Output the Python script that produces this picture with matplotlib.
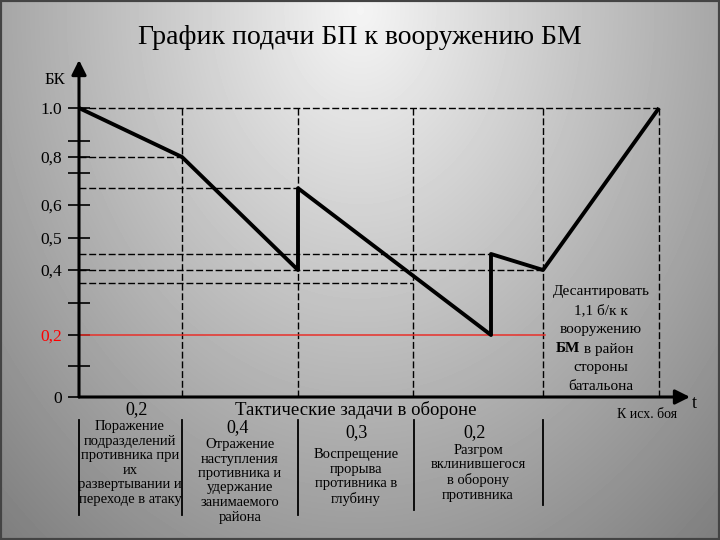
"""
График подачи БП к вооружению БМ: ammunition level (BK) over the
phases of a defensive battle, redrawn with matplotlib.
"""

import numpy as np
import matplotlib.pyplot as plt
from matplotlib import transforms

# Polyline of the ammunition level (time in arbitrary units, level in BK)
time_points = [0.0, 1.03, 2.19, 2.19, 4.12, 4.12, 4.64, 5.80]
bk_points = [1.0, 0.8, 0.4, 0.67, 0.2, 0.45, 0.4, 1.0]

# Phase boundaries along the time axis
phase_bounds = [1.03, 2.19, 3.34, 4.64, 5.80]

# Dashed guide lines: (level, time where the guide stops)
guide_levels = [1.0, 0.8, 0.67, 0.45, 0.4, 0.36]
guide_ends = [5.80, 1.03, 2.19, 4.12, 4.64, 3.34]

# Minimum allowed level (red line)
min_level = 0.2
min_level_end = 4.66

# Y axis ticks
ytick_values = [0, 0.2, 0.4, 0.5, 0.6, 0.8, 1.0]
ytick_labels = ["0", "0,2", "0,4", "0,5", "0,6", "0,8", "1.0"]
yminor_values = [0.1, 0.3, 0.733, 0.865]

# Phase annotations below the time axis
phase_amounts = ["0,2", "0,4", "0,3", "0,2"]
phase_texts = [
    "Поражение\nподразделений\nпротивника при\nих\nразвертывании и\nпереходе в атаку",
    "Отражение\nнаступления\nпротивника и\nудержание\nзанимаемого\nрайона",
    "Воспрещение\nпрорыва\nпротивника в\nглубину",
    "Разгром\nвклинившегося\nв оборону\nпротивника",
]

# Resupply note, line by line (line 4 starts with bold "БМ")
note_lines = ["Десантировать", "1,1 б/к к", "вооружению", None,
              "стороны", "батальона"]

# The hand-drawn level axis is not linear: map level -> height
VAL_KNOTS = [-1.0, 0.0, 0.2, 0.4, 0.5, 0.6, 0.8, 1.0, 2.0]
POS_KNOTS = [-310, 0, 62, 127, 159, 192, 240, 289, 534]


def forward(v):
    return np.interp(v, VAL_KNOTS, POS_KNOTS)


def inverse(p):
    return np.interp(p, POS_KNOTS, VAL_KNOTS)


def main():
    plt.rcParams["font.family"] = ["Liberation Serif", "DejaVu Serif"]

    W, H = 720, 540
    fig = plt.figure(figsize=(W / 100, H / 100), dpi=100)

    # Gray radial gradient background, like the slide
    bg = fig.add_axes([0, 0, 1, 1], zorder=-10)
    yy, xx = np.mgrid[0:H, 0:W]
    r = np.sqrt(((xx - 360) / 430.0) ** 2 + ((yy - 10) / 560.0) ** 2)
    grad = np.clip(0.96 - 0.37 * r, 0, 1)
    bg.imshow(grad, cmap="gray", vmin=0, vmax=1, extent=[0, 1, 0, 1],
              aspect="auto", interpolation="bilinear")
    bg.set_xlim(0, 1)
    bg.set_ylim(0, 1)
    bg.axis("off")
    # slide frame
    bg.plot([0, 0, 1, 1, 0], [0, 1, 1, 0, 0], color="#444444", lw=3,
            clip_on=False)

    # Main axes: x from the origin to the arrow tip, y up to the arrow tip
    ax = fig.add_axes([79 / W, 143 / H, 611 / W, 337 / H])
    ax.patch.set_alpha(0)
    ax.set_yscale("function", functions=(forward, inverse))
    ax.set_xlim(0, 6.11)
    ax.set_ylim(0, float(inverse(337)))
    for sp in ax.spines.values():
        sp.set_visible(False)

    # Axes drawn as arrows
    arrow = dict(arrowstyle="-|>", lw=2.2, color="black",
                 mutation_scale=22, shrinkA=0, shrinkB=0)
    ax.annotate("", xy=(6.11, 0), xytext=(0, 0), arrowprops=arrow,
                annotation_clip=False)
    ax.annotate("", xy=(0, float(inverse(337))), xytext=(0, 0),
                arrowprops=arrow, annotation_clip=False)

    dash = (0, (5, 2))
    # Horizontal dashed guides
    for lvl, end in zip(guide_levels, guide_ends):
        ax.plot([0, end], [lvl, lvl], color="black", lw=1.0, ls=dash)
    # Vertical dashed guides
    for t in phase_bounds:
        ax.plot([t, t], [0, 1.0], color="black", lw=1.0, ls=dash)

    # Red minimum level
    ax.plot([0, min_level_end], [min_level, min_level], color="#e8302a",
            lw=1.1)

    # Ammunition level
    ax.plot(time_points, bk_points, color="black", lw=2.8, zorder=5,
            solid_capstyle="butt")

    # Ticks
    ax.set_xticks([])
    ax.set_yticks(ytick_values, ytick_labels)
    ax.set_yticks(yminor_values, minor=True)
    ax.tick_params(axis="y", which="both", direction="inout", length=16,
                   width=1.2, pad=4, labelsize=12.5)
    ax.get_yticklabels()[1].set_color("red")

    # Text outside the plot: x in data units, y in figure fraction
    tr = transforms.blended_transform_factory(ax.transData, fig.transFigure)

    def fy(py):
        return 1 - py / H

    fig.text(0.5, fy(37), "График подачи БП к вооружению БМ", ha="center",
             va="center", fontsize=20)
    fig.text(55 / W, fy(80), "БК", ha="center", va="center", fontsize=12)
    ax.text(6.13, fy(403), "t", transform=tr, ha="left", va="center",
            fontsize=13)
    ax.text(5.68, fy(414), "К исх. боя", transform=tr, ha="center",
            va="center", fontsize=10)

    ax.text(2.77, fy(410), "Тактические задачи в обороне", transform=tr,
            ha="center", va="center", fontsize=13.5)

    amount_x = [0.58, 1.59, 2.78, 3.96]
    amount_y = [410, 428, 433, 433]
    text_x = [0.51, 1.61, 2.77, 3.99]
    text_y = [420, 438, 448, 444]
    for i in range(4):
        ax.text(amount_x[i], fy(amount_y[i]), phase_amounts[i], transform=tr,
                ha="center", va="center", fontsize=13)
        ax.text(text_x[i], fy(text_y[i]), phase_texts[i], transform=tr,
                ha="center", va="top", fontsize=10.5, linespacing=1.15)

    # Separators between phase descriptions
    sep_x = [0.0, 1.03, 2.19, 3.35, 4.64]
    sep_bottom = [515, 515, 515, 510, 505]
    for x, yb in zip(sep_x, sep_bottom):
        ax.plot([x, x], [fy(420), fy(yb)], transform=tr, color="black",
                lw=1.3, clip_on=False)

    # Resupply note, one line at a time
    for i, line in enumerate(note_lines):
        py = 292 + 19 * i
        if line is None:
            bm = ax.text(4.77, fy(py), "БМ", transform=tr, ha="left",
                         va="center", fontsize=11, fontweight="bold")
            ax.annotate(" в район", xy=(1, 0), xycoords=bm, ha="left",
                        va="bottom", fontsize=11)
        else:
            ax.text(5.22, fy(py), line, transform=tr, ha="center",
                    va="center", fontsize=11)

    fig.savefig("out.png", dpi=100)


if __name__ == "__main__":
    main()
